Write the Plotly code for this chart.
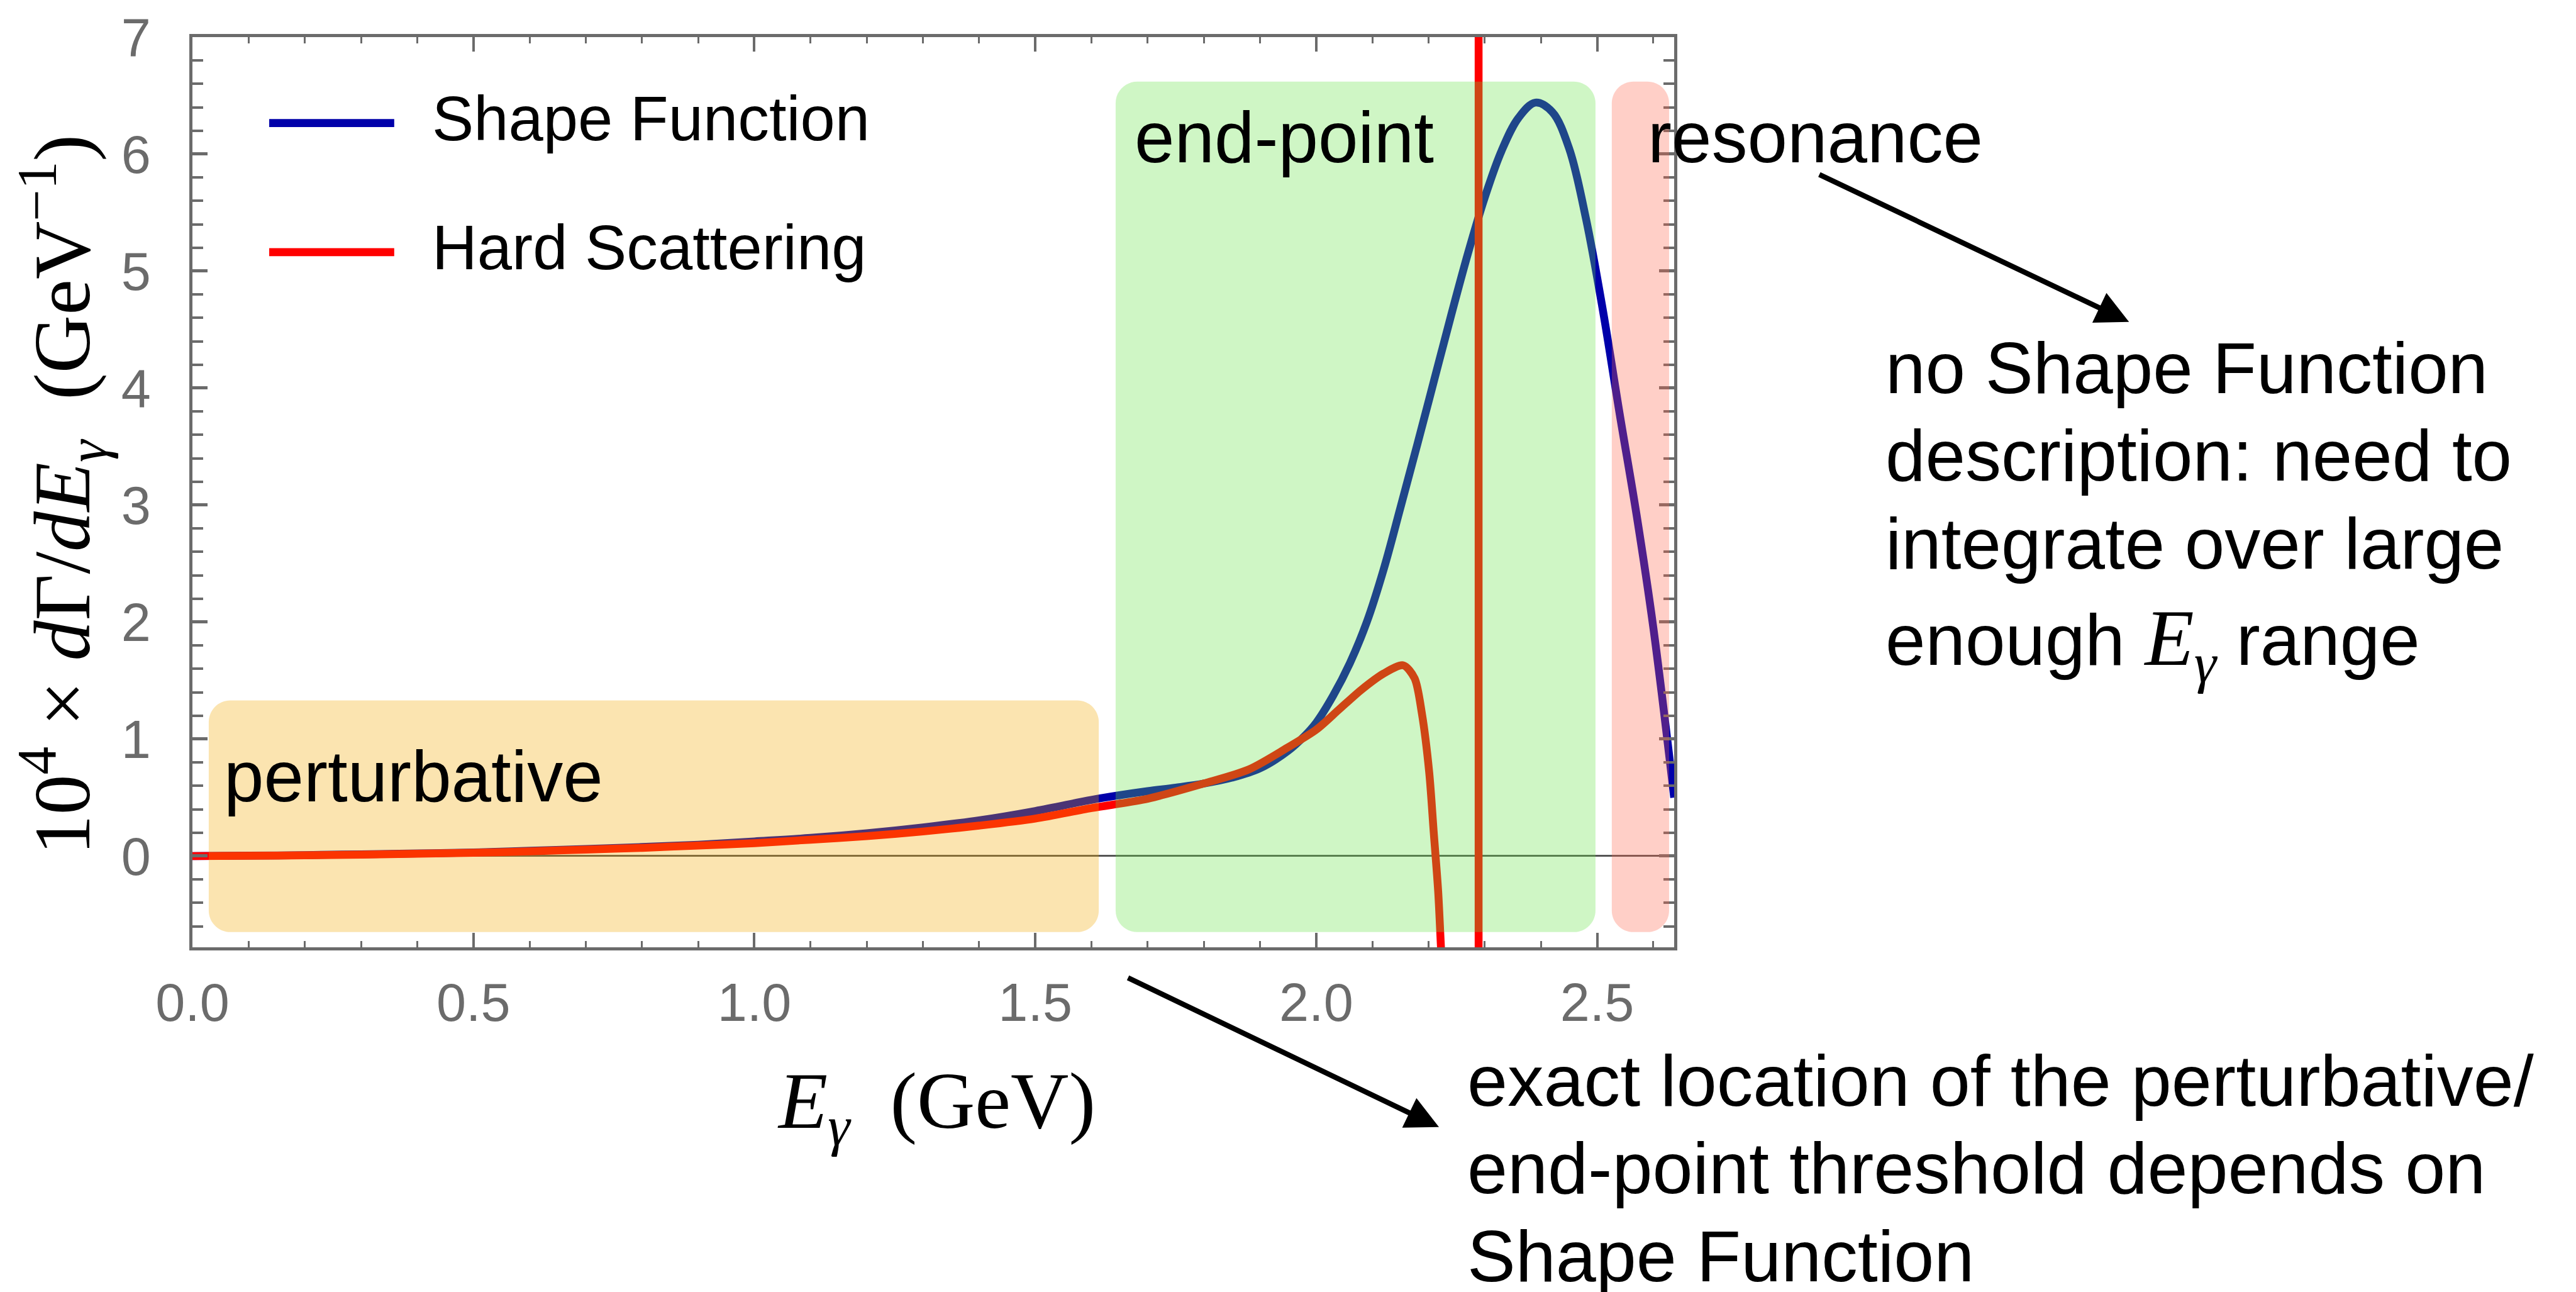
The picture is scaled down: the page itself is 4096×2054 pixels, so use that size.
import plotly.graph_objects as go

# ---------------- data ----------------
e_shape = [0.00, 0.10, 0.20, 0.30, 0.40, 0.50, 0.60, 0.70, 0.80, 0.90, 1.00, 1.10, 1.20,
           1.30, 1.40, 1.50, 1.60, 1.65, 1.70, 1.75, 1.80, 1.85, 1.90, 1.95, 1.98, 2.00,
           2.03, 2.06, 2.09, 2.12, 2.15, 2.18, 2.21, 2.24, 2.27, 2.30, 2.33, 2.36, 2.39,
           2.42, 2.45, 2.48, 2.51, 2.54, 2.57, 2.60, 2.637]
y_shape = [0.000, 0.003, 0.008, 0.015, 0.022, 0.030, 0.045, 0.060, 0.077, 0.097, 0.125, 0.155, 0.195,
           0.245, 0.305, 0.385, 0.480, 0.520, 0.555, 0.585, 0.620, 0.670, 0.750, 0.900, 1.030, 1.140,
           1.370, 1.650, 2.000, 2.450, 2.980, 3.520, 4.070, 4.620, 5.150, 5.630, 6.030, 6.310, 6.440,
           6.360, 6.050, 5.450, 4.670, 3.780, 2.920, 1.950, 0.500]

e_hard = [0.00, 0.10, 0.20, 0.30, 0.40, 0.50, 0.60, 0.70, 0.80, 0.90, 1.00, 1.10, 1.20,
          1.30, 1.40, 1.50, 1.60, 1.70, 1.80, 1.88, 1.95, 2.00, 2.04, 2.08, 2.12, 2.155,
          2.175, 2.188, 2.201, 2.209, 2.217, 2.222, 2.23, None, 2.289, 2.289]
y_hard = [0.000, 0.002, 0.006, 0.012, 0.020, 0.028, 0.040, 0.055, 0.070, 0.090, 0.110, 0.140, 0.170,
          0.210, 0.260, 0.320, 0.410, 0.490, 0.620, 0.740, 0.930, 1.080, 1.250, 1.420, 1.560, 1.630,
          1.520, 1.220, 0.720, 0.210, -0.300, -0.780, -1.500, None, -400.0, 400.0]

series_names = ["Shape Function", "Hard Scattering"]
x_ticks = [0.0, 0.5, 1.0, 1.5, 2.0, 2.5]
y_ticks = [0, 1, 2, 3, 4, 5, 6, 7]
x_range = [0.0, 2.637]
y_range = [-0.78, 7.0]

# regions: (label, x0, x1, y0, y1)
regions = [
    ("perturbative", 0.029, 1.613, -0.65, 1.33),
    ("end-point", 1.643, 2.497, -0.65, 6.62),
    ("resonance", 2.526, 2.628, -0.65, 6.62),
]

# ---------------- layout geometry ----------------
S = 0.984
W, H = 4096, 2054
L_ref, R_ref, T_ref, B_ref = 311, 2705, 57, 1530
L, R, T, B = L_ref * S, R_ref * S, T_ref * S, B_ref * S
PW, PH = R - L, B - T


def px(xr):
    return (xr * S - L) / PW


def py(yr):
    return (B - yr * S) / PH


SANS = "Liberation Sans, Arial, Helvetica, sans-serif"
SERIF = "Liberation Serif, Times New Roman, serif"
GRAY = "#6b6b6b"
BLUE = "#0000aa"
RED = "#ff0000"

fig = go.Figure()
fig.add_trace(go.Scatter(x=e_shape, y=y_shape, mode="lines", name=series_names[0],
                         line=dict(color=BLUE, width=12.5, shape="spline", smoothing=1.0),
                         showlegend=False))
fig.add_trace(go.Scatter(x=e_hard, y=y_hard, mode="lines", name=series_names[1],
                         line=dict(color=RED, width=12.5, shape="spline", smoothing=0.8),
                         connectgaps=False, showlegend=False))

# rounded semi-transparent overlays (drawn above the curves)
fills = ["rgba(242,167,0,0.31)", "rgba(101,225,67,0.31)", "rgba(255,101,75,0.31)"]
rad_px = 35 * S
rx = rad_px * (x_range[1] - x_range[0]) / PW
ry = rad_px * (y_range[1] - y_range[0]) / PH
k = 0.5523


def rrect(x0, x1, y0, y1):
    return (f"M{x0+rx},{y0} L{x1-rx},{y0} "
            f"C{x1-rx+k*rx},{y0} {x1},{y0+ry-k*ry} {x1},{y0+ry} "
            f"L{x1},{y1-ry} "
            f"C{x1},{y1-ry+k*ry} {x1-rx+k*rx},{y1} {x1-rx},{y1} "
            f"L{x0+rx},{y1} "
            f"C{x0+rx-k*rx},{y1} {x0},{y1-ry+k*ry} {x0},{y1-ry} "
            f"L{x0},{y0+ry} "
            f"C{x0},{y0+ry-k*ry} {x0+rx-k*rx},{y0} {x0+rx},{y0} Z")


for (lab, x0, x1, y0, y1), fc in zip(regions, fills):
    fig.add_shape(type="path", path=rrect(x0, x1, y0, y1), xref="x", yref="y",
                  fillcolor=fc, line=dict(width=0), layer="above")

annotations = []


def text_ann(txt, left_ref, base_ref, fs_ref, font=SANS, color="black"):
    fs = fs_ref * S
    center = base_ref * S - 0.3465 * fs
    annotations.append(dict(text=txt, xref="paper", yref="paper",
                            x=(left_ref * S - L) / PW, y=(B - center) / PH,
                            xanchor="left", yanchor="middle", showarrow=False,
                            font=dict(family=font, size=fs, color=color)))


# legend (manual, to match long line samples)
leg = [(series_names[0], BLUE, 196, 224), (series_names[1], RED, 405, 433)]
for name, col, ly, base in leg:
    fig.add_shape(type="line", xref="paper", yref="paper",
                  x0=px(435), x1=px(637), y0=py(ly), y1=py(ly),
                  line=dict(color=col, width=13 * S))
    text_ann(name, 696, base, 101)

# region labels
text_ann("perturbative", 360, 1294, 116)
text_ann("end-point", 1831, 260, 116)
text_ann("resonance", 2660, 260, 116)

# right side notes
right_lines = ["no Shape Function", "description: need to", "integrate over large"]
for i, t in enumerate(right_lines):
    text_ann(t, 3044, 633 + 142 * i, 116)
fs = 116 * S
annotations.append(dict(
    text=(f"enough <span style=\"font-family:{SERIF};font-size:{round(fs*1.12)}px\">"
          f"<i>E<sub>γ</sub></i></span> range"),
    xref="paper", yref="paper", x=px(3044), y=(B - (1060 * S - 0.905 * fs)) / PH,
    xanchor="left", yanchor="top", showarrow=False,
    font=dict(family=SANS, size=fs, color="black")))

bottom_lines = ["exact location of the perturbative/", "end-point threshold depends on",
                "Shape Function"]
for i, t in enumerate(bottom_lines):
    text_ann(t, 2369, 1786 + 142 * i, 117)

# arrows
for (tx, ty), (sx, sy) in [((3440, 518), (2938, 279)), ((2325, 1821), (1821, 1579))]:
    annotations.append(dict(text="", xref="paper", yref="paper", x=px(tx), y=py(ty),
                            axref="pixel", ayref="pixel", ax=(sx - tx) * S, ay=(sy - ty) * S,
                            showarrow=True, arrowhead=2, arrowsize=1.25, arrowwidth=8.5 * S,
                            arrowcolor="black"))

# axis titles
xfs = 130 * S
annotations.append(dict(
    text="<i>E<sub>γ</sub></i>\u2002(GeV)", xref="paper", yref="paper",
    x=px(1513), y=(B - (1820 * S - 0.891 * xfs)) / PH, xanchor="center", yanchor="top",
    showarrow=False, font=dict(family=SERIF, size=xfs, color="black")))
yfs = 130 * S
annotations.append(dict(
    text="10<sup>4</sup> × <i>d</i>Γ/<i>dE<sub>γ</sub></i>\u2002(GeV<sup>−1</sup>)",
    xref="paper", yref="paper", x=px(100), y=py(797), xanchor="center", yanchor="middle",
    textangle=-90, showarrow=False, font=dict(family=SERIF, size=yfs, color="black")))

axis_common = dict(showline=True, linecolor=GRAY, linewidth=5.5 * S, mirror="allticks",
                   ticks="inside", tickcolor=GRAY, showgrid=False,
                   tickfont=dict(family=SANS, size=86 * S, color=GRAY))

fig.update_xaxes(range=x_range, tickvals=x_ticks, ticktext=[f"{v:.1f}" for v in x_ticks],
                 ticklen=23 * S, tickwidth=4.5 * S, zeroline=False, ticklabelstandoff=10,
                 minor=dict(dtick=0.1, tick0=0, ticks="inside", ticklen=10 * S,
                            tickwidth=3.5 * S, tickcolor=GRAY),
                 **axis_common)
fig.update_yaxes(range=y_range, tickvals=y_ticks, ticktext=[str(v) for v in y_ticks],
                 ticklen=24 * S, tickwidth=5 * S, zeroline=True, zerolinecolor="#555555",
                 zerolinewidth=3 * S, ticklabelstandoff=44,
                 minor=dict(dtick=0.2, tick0=0, ticks="inside", ticklen=17 * S,
                            tickwidth=4.5 * S, tickcolor=GRAY),
                 **axis_common)

fig.update_layout(width=W, height=H, margin=dict(l=L, r=W - R, t=T, b=H - B),
                  paper_bgcolor="white", plot_bgcolor="white", showlegend=False,
                  annotations=annotations)

fig.write_html("out.html")
